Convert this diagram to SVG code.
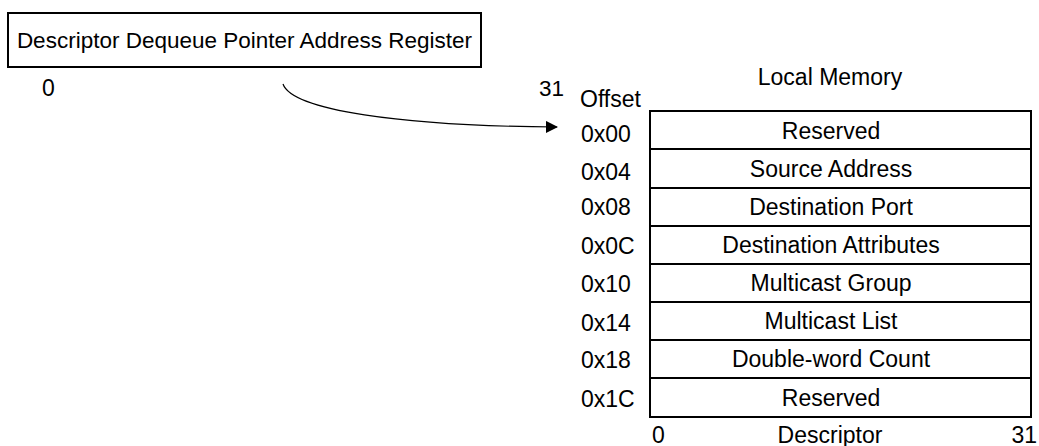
<svg xmlns="http://www.w3.org/2000/svg" width="1039" height="446" viewBox="0 0 1039 446">
<style>
text{font-family:"Liberation Sans",Arial,sans-serif;font-size:23px;fill:#000}
.c{text-anchor:middle}
.r{text-anchor:end}
.reg{font-size:22.5px}
.box{fill:#fff;stroke:#000;stroke-width:2}
.cell{fill:none;stroke:#000;stroke-width:2}
.conn{fill:none;stroke:#000;stroke-width:1.2}
</style>
<defs>
<marker id="ah" markerWidth="12" markerHeight="12" refX="11" refY="6" orient="auto" markerUnits="userSpaceOnUse">
<path d="M0,0 L12,6 L0,12 z" fill="#000"/>
</marker>
</defs>
<rect width="1039" height="446" fill="#fff"/>
<g id="register">
<rect class="box" x="8" y="13" width="473" height="54"/>
<text class="c reg" x="244.5" y="48">Descriptor Dequeue Pointer Address Register</text>
<text x="42" y="96">0</text>
<text class="reg" x="539" y="96">31</text>
</g>
<g id="connectors">
<path class="conn" d="M283,84 C292,110 400,126 557,127" marker-end="url(#ah)"/>
</g>
<g id="memory">
<text class="c" x="830" y="85">Local Memory</text>
<text x="580" y="107">Offset</text>
<rect class="cell" x="650" y="111" width="381" height="306"/>
<line class="cell" x1="650" y1="149" x2="1031" y2="149"/>
<line class="cell" x1="650" y1="188" x2="1031" y2="188"/>
<line class="cell" x1="650" y1="226" x2="1031" y2="226"/>
<line class="cell" x1="650" y1="264" x2="1031" y2="264"/>
<line class="cell" x1="650" y1="302" x2="1031" y2="302"/>
<line class="cell" x1="650" y1="340" x2="1031" y2="340"/>
<line class="cell" x1="650" y1="378" x2="1031" y2="378"/>
<g id="row0"><text x="581" y="142">0x00</text><text class="c" x="831" y="139">Reserved</text></g>
<g id="row1"><text x="581" y="180">0x04</text><text class="c" x="831" y="177">Source Address</text></g>
<g id="row2"><text x="581" y="215">0x08</text><text class="c" x="831" y="215">Destination Port</text></g>
<g id="row3"><text x="581" y="254">0x0C</text><text class="c" x="831" y="253">Destination Attributes</text></g>
<g id="row4"><text x="581" y="292">0x10</text><text class="c" x="831" y="291">Multicast Group</text></g>
<g id="row5"><text x="581" y="331">0x14</text><text class="c" x="831" y="329">Multicast List</text></g>
<g id="row6"><text x="581" y="368">0x18</text><text class="c" x="831" y="367">Double-word Count</text></g>
<g id="row7"><text x="581" y="407">0x1C</text><text class="c" x="831" y="406">Reserved</text></g>
<text x="652" y="443">0</text>
<text class="c" x="830" y="443">Descriptor</text>
<text class="r" x="1037" y="443">31</text>
</g>
</svg>
